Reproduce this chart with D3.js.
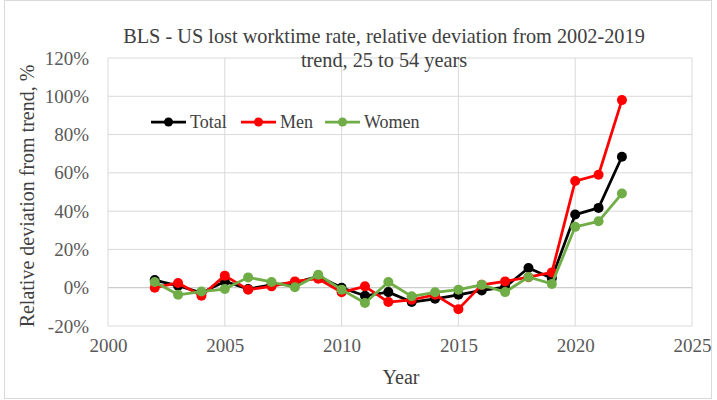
<!DOCTYPE html>
<html>
<head>
<meta charset="utf-8">
<script src="https://cdn.jsdelivr.net/npm/d3@7"></script>
<style>
  body { margin:0; background:#fff; }
  svg text { font-family: "Liberation Serif", "Times New Roman", serif; fill:#404040; }
</style>
</head>
<body>
<div id="chart"></div>
<script>
var years = [2002,2003,2004,2005,2006,2007,2008,2009,2010,2011,2012,2013,2014,2015,2016,2017,2018,2019,2020,2021,2022]
var totalVals = [4,1,-2.7,3.3,-0.7,1.5,2.5,6,0,-4.2,-2.3,-7.5,-5.8,-3.7,-1.4,0.3,10.3,5,38.2,41.7,68.4]
var menVals = [0,2.5,-4.2,6.3,-1,0.7,3.3,4.7,-2.4,0.7,-7.5,-6.3,-3.7,-11.2,1.5,3.3,5.5,8,55.7,59,98]
var womenVals = [3,-3.7,-2,-0.7,5.4,3,0.2,6.8,-1,-8,3,-4.5,-2.4,-1,1.5,-2.3,5.6,2,31.8,34.7,49.2]
var xTicks = [2000,2005,2010,2015,2020,2025]
var yTicks = [-20,0,20,40,60,80,100,120]
var seriesNames = ["Total","Men","Women"]
var seriesColors = ["#000000","#ff0000","#70ad47"]

var series = [totalVals, menVals, womenVals].map(function(vals, i){
  return {name: seriesNames[i], color: seriesColors[i],
          values: years.map(function(y, j){ return {year:y, value:vals[j]} })}
})

var W = 717, H = 400
var margin = {top:58, right:25, bottom:74, left:108}
var width = W - margin.left - margin.right,
    height = H - margin.top - margin.bottom
var serif = '"Liberation Serif", "Times New Roman", serif'

var svg = d3.select("#chart").append("svg")
    .attr("width", W).attr("height", H)

svg.append("rect").attr("x", 4.5).attr("y", 0.5).attr("width", 707).attr("height", 398)
  .attr("fill", "none").attr("stroke", "#d9d9d9")

var chart = svg.append("g").attr("transform", "translate(" + margin.left + "," + margin.top + ")")

var xScale = d3.scaleLinear().domain([2000, 2025]).range([0, width])
var yScale = d3.scaleLinear().domain([-20, 120]).range([height, 0])

// grid
chart.selectAll(".hgrid").data(yTicks).enter().append("line")
  .attr("x1", 0).attr("x2", width)
  .attr("y1", function(d){ return yScale(d) }).attr("y2", function(d){ return yScale(d) })
  .attr("stroke", function(d){ return d == 0 ? "#bfbfbf" : "#d9d9d9" }).attr("stroke-width", 1)
chart.selectAll(".vgrid").data(xTicks).enter().append("line")
  .attr("y1", 0).attr("y2", height)
  .attr("x1", function(d){ return xScale(d) }).attr("x2", function(d){ return xScale(d) })
  .attr("stroke", "#d9d9d9").attr("stroke-width", 1)

// axes
var xAxis = chart.append("g").attr("transform", "translate(0," + height + ")")
  .call(d3.axisBottom(xScale).tickValues(xTicks).tickFormat(d3.format("d")).tickSize(0).tickPadding(13))
var yAxis = chart.append("g")
  .call(d3.axisLeft(yScale).tickValues(yTicks).tickFormat(function(d){ return d + "%" }).tickSize(0).tickPadding(19))
xAxis.select(".domain").remove()
yAxis.select(".domain").remove()
chart.selectAll(".tick text").style("font-family", serif).style("font-size", "19px").style("fill", "#595959")

// lines
var line = d3.line().x(function(d){ return xScale(d.year) }).y(function(d){ return yScale(d.value) })
series.forEach(function(s){
  chart.append("path").datum(s.values)
    .attr("fill", "none").attr("stroke", s.color).attr("stroke-width", 2.75)
    .attr("stroke-linejoin", "round").attr("d", line)
  chart.selectAll(".dot-" + s.name).data(s.values).enter().append("circle")
    .attr("cx", function(d){ return xScale(d.year) })
    .attr("cy", function(d){ return yScale(d.value) })
    .attr("r", 5).attr("fill", s.color)
})

// legend
var legendX = [151, 241, 325]
var legend = svg.append("g")
series.forEach(function(s, i){
  var g = legend.append("g").attr("transform", "translate(" + legendX[i] + ",122)")
  g.append("line").attr("x1", 0).attr("x2", 35).attr("stroke", s.color).attr("stroke-width", 2.75)
  g.append("circle").attr("cx", 17.5).attr("r", 4.5).attr("fill", s.color)
  g.append("text").attr("x", 39).attr("y", 6).style("font-size", "18px").text(s.name)
})

// titles
svg.append("text").attr("x", 384).attr("y", 43).attr("text-anchor", "middle").style("font-size", "20.3px")
  .text("BLS - US lost worktime rate, relative deviation from 2002-2019")
svg.append("text").attr("x", 384).attr("y", 67).attr("text-anchor", "middle").style("font-size", "20.3px")
  .text("trend, 25 to 54 years")
svg.append("text").attr("x", 401).attr("y", 384).attr("text-anchor", "middle").style("font-size", "20px")
  .text("Year")
svg.append("text").attr("transform", "translate(34,196) rotate(-90)").attr("text-anchor", "middle").style("font-size", "20px")
  .text("Relative deviation from trend, %")
</script>
</body>
</html>
